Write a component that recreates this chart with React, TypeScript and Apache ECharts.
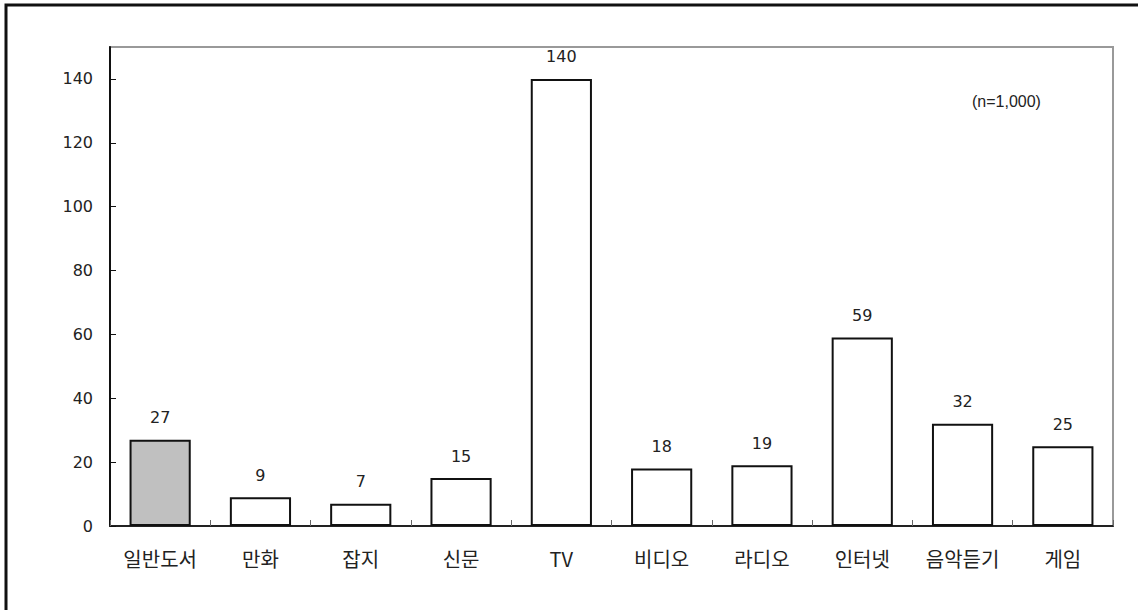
import React, { useEffect, useRef } from "react";
import * as echarts from "echarts";

const categories = ["일반도서", "만화", "잡지", "신문", "TV", "비디오", "라디오", "인터넷", "음악듣기", "게임"];
const values = [27, 9, 7, 15, 140, 18, 19, 59, 32, 25];
const highlightIndex = 0;
const noteText = "(n=1,000)";

export default function App() {
  const ref = useRef<HTMLDivElement>(null);
  useEffect(() => {
    if (!ref.current) return;
    const chart = echarts.init(ref.current, undefined, { renderer: "svg" });
    const numFont = "'DejaVu Sans', sans-serif";
    const noteFont = "'Liberation Sans', Arial, sans-serif";
    const krFont = "'Noto Sans CJK KR', sans-serif";
    chart.setOption({
      animation: false,
      backgroundColor: "#fff",
      grid: {
        left: 110,
        right: 25,
        top: 47,
        bottom: 84,
        show: true,
        borderColor: "#999",
        borderWidth: 2,
        backgroundColor: "transparent",
      },
      xAxis: {
        type: "category",
        data: categories,
        axisLine: { lineStyle: { color: "#222", width: 2 } },
        axisTick: { show: true, inside: true, length: 6, alignWithLabel: false, lineStyle: { color: "#666", width: 1 } },
        axisLabel: { color: "#222", fontSize: 20, fontFamily: krFont, margin: 22 },
        splitLine: { show: false },
      },
      yAxis: {
        type: "value",
        min: 0,
        max: 150,
        interval: 20,
        axisLine: { show: true, lineStyle: { color: "#111", width: 2 } },
        axisTick: { show: true, inside: true, length: 6, lineStyle: { color: "#111", width: 1 } },
        axisLabel: { color: "#222", fontSize: 16, fontFamily: numFont, margin: 17, showMaxLabel: false },
        splitLine: { show: false },
      },
      series: [
        {
          type: "bar",
          data: values.map((v, i) => ({
            value: v,
            itemStyle: { color: i === highlightIndex ? "#c0c0c0" : "#ffffff" },
          })),
          barWidth: "61%",
          itemStyle: { borderColor: "#111", borderWidth: 2 },
          label: {
            show: true,
            position: "top",
            distance: 14,
            color: "#222",
            fontSize: 16,
            fontFamily: numFont,
          },
        },
      ],
      graphic: [
        {
          type: "rect",
          shape: { x: 6, y: 5, width: 1300, height: 800 },
          style: { fill: "none", stroke: "#111", lineWidth: 3 },
          silent: true,
        },
        {
          type: "text",
          left: 972,
          top: 93,
          style: { text: noteText, fontSize: 16, fontFamily: noteFont, fill: "#222" },
        },
      ],
    });
    return () => chart.dispose();
  }, []);
  return (
    <div
      ref={ref}
      style={{ position: "absolute", left: 0, top: 0, width: 1138, height: 610 }}
    />
  );
}
